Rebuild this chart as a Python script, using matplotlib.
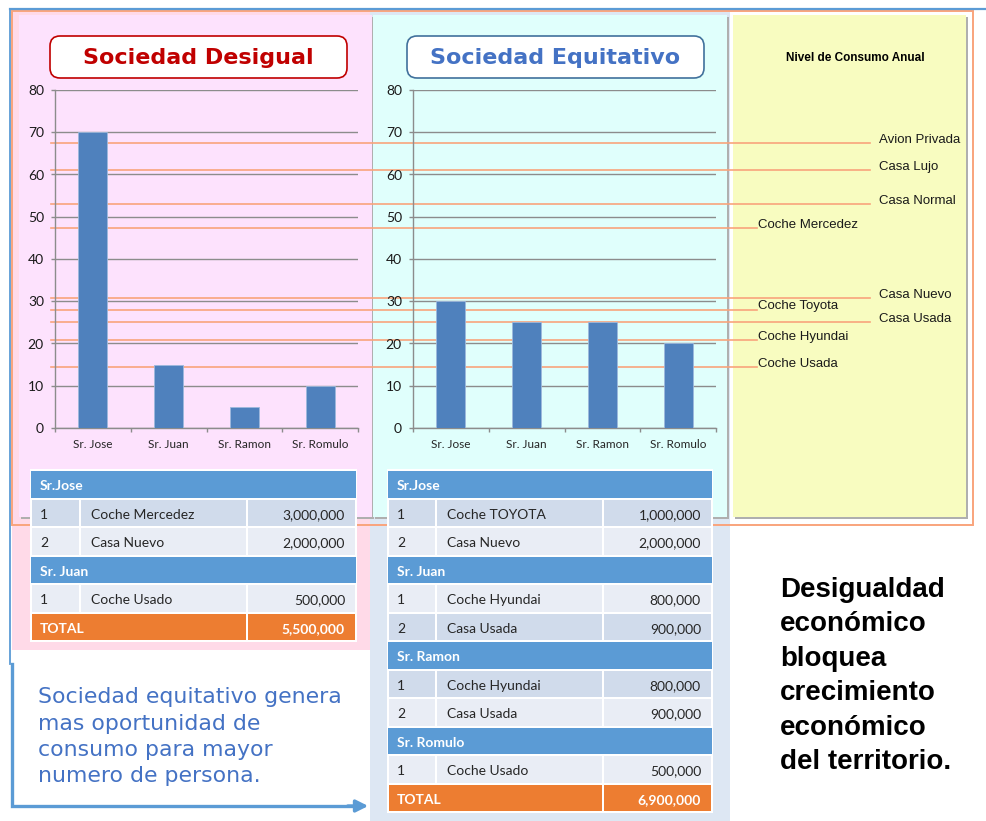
import matplotlib
matplotlib.use("Agg")
import matplotlib.pyplot as plt
import matplotlib.transforms as mtransforms
from matplotlib.patches import Rectangle, FancyBboxPatch

# ---- data ----
people = ["Sr. Jose", "Sr. Juan", "Sr. Ramon", "Sr. Romulo"]
desigual_values = [70, 15, 5, 10]
equitativo_values = [30, 25, 25, 20]
y_ticks = [0, 10, 20, 30, 40, 50, 60, 70, 80]

# consumption levels, on the same scale as the bars
casa_items = ["Avion Privada", "Casa Lujo", "Casa Normal", "Casa Nuevo", "Casa Usada"]
casa_levels = [67.4, 61.0, 52.9, 30.7, 25.1]
coche_items = ["Coche Mercedez", "Coche Toyota", "Coche Hyundai", "Coche Usada"]
coche_levels = [47.3, 28.0, 20.8, 14.4]

desigual_groups = ["Sr.Jose", "Sr. Juan"]
desigual_rows = [
    [("1", "Coche Mercedez", "3,000,000"), ("2", "Casa Nuevo", "2,000,000")],
    [("1", "Coche Usado", "500,000")],
]
desigual_total = "5,500,000"

equitativo_groups = ["Sr.Jose", "Sr. Juan", "Sr. Ramon", "Sr. Romulo"]
equitativo_rows = [
    [("1", "Coche TOYOTA", "1,000,000"), ("2", "Casa Nuevo", "2,000,000")],
    [("1", "Coche Hyundai", "800,000"), ("2", "Casa Usada", "900,000")],
    [("1", "Coche Hyundai", "800,000"), ("2", "Casa Usada", "900,000")],
    [("1", "Coche Usado", "500,000")],
]
equitativo_total = "6,900,000"

note_lines = ["Sociedad equitativo genera", "mas oportunidad de",
              "consumo para mayor", "numero de persona."]
claim_lines = ["Desigualdad", "económico", "bloquea", "crecimiento",
               "económico", "del territorio."]

# ---- colours ----
BAR = "#4F81BD"
GRID = "#8C8C8C"
ORANGE_LINE = "#F9A47C"
BLUE_LINE = "#5B9BD5"
HEAD = "#5B9BD5"
ROW_DARK = "#D0DBEB"
ROW_LIGHT = "#E9EDF5"
TOTAL = "#ED7D31"

W, H = 986, 821
fig = plt.figure(figsize=(W / 100, H / 100), dpi=100)
bg = fig.add_axes([0, 0, 1, 1])
bg.set_xlim(0, W)
bg.set_ylim(H, 0)
bg.axis("off")


def px_axes(x0, x1, y0, y1):
    return [x0 / W, 1 - y1 / H, (x1 - x0) / W, (y1 - y0) / H]


# background regions
bg.add_patch(Rectangle((12, 12), 358, 638, fc="#FFDAE8", ec="none", zorder=1))
bg.add_patch(Rectangle((370, 12), 360, 809, fc="#DDE7F3", ec="none", zorder=1))
bg.add_patch(Rectangle((12, 11), 961, 514, fill=False, ec=ORANGE_LINE, lw=1.4, zorder=2))
bg.plot([10, 986], [9, 9], color=BLUE_LINE, lw=1.6, zorder=2)
bg.plot([10, 10], [9, 664], color=BLUE_LINE, lw=1.3, zorder=2)

# panels with a small shadow
for x0, x1, fc in [(19, 372, "#FDE2FD"), (373, 727, "#E0FFFC"), (733, 966, "#F8FCC0")]:
    bg.add_patch(Rectangle((x0 + 2, 17), x1 - x0, 502, fc="#AFAFAF", ec="none", zorder=2.5))
    bg.add_patch(Rectangle((x0, 15), x1 - x0, 502, fc=fc, ec="none", zorder=3))

# title boxes
for x0, label, col, ecol in [(50, "Sociedad Desigual", "#C00000", "#C00000"),
                             (407, "Sociedad Equitativo", "#4472C4", "#41719C")]:
    bg.add_patch(FancyBboxPatch((x0, 36), 297, 42, boxstyle="round,pad=0,rounding_size=10",
                                fc="white", ec=ecol, lw=1.2, zorder=6))
    bg.text(x0 + 148.5, 58, label, ha="center", va="center", fontsize=16,
            fontweight="bold", family="DejaVu Sans", color=col, zorder=7)

bg.text(855, 58, "Nivel de Consumo Anual", ha="center", va="center", fontsize=8.5,
        fontweight="bold", family="Liberation Sans", color="black", zorder=7)


def draw_chart(ax, values):
    ax.set_facecolor("none")
    xs = list(range(len(people)))
    ax.bar(xs, values, width=0.38, color=BAR, edgecolor="#9DB9DD", linewidth=0.6, zorder=3)
    ax.set_xlim(-0.5, len(people) - 0.5)
    ax.set_ylim(0, 80)
    ax.set_yticks(y_ticks)
    ax.yaxis.grid(True, color=GRID, linewidth=1, zorder=0)
    ax.set_axisbelow(True)
    ax.set_xticks(xs)
    ax.set_xticklabels(people, fontsize=8.5, family="Lato", color="#262626")
    ax.set_xticks([i - 0.5 for i in range(len(people) + 1)], minor=True)
    ax.tick_params(axis="x", which="major", length=0, pad=8)
    ax.tick_params(axis="x", which="minor", length=3, color=GRID, width=1)
    ax.tick_params(axis="y", length=3, color=GRID, width=1, pad=5, labelsize=10,
                   labelcolor="#1a1a1a")
    for lab in ax.get_yticklabels():
        lab.set_family("Lato")
    for s in ["top", "right"]:
        ax.spines[s].set_visible(False)
    for s in ["left", "bottom"]:
        ax.spines[s].set_color(GRID)
        ax.spines[s].set_linewidth(1)


ax1 = fig.add_axes(px_axes(55, 358, 90, 428))
ax2 = fig.add_axes(px_axes(413, 716, 90, 428))
draw_chart(ax1, desigual_values)
draw_chart(ax2, equitativo_values)

# consumption level lines (x in pixels, y on the chart scale)
trans = mtransforms.blended_transform_factory(bg.transData, ax1.transData)
for names, levels, x_end in [(casa_items, casa_levels, 870), (coche_items, coche_levels, 757)]:
    for name, lvl in zip(names, levels):
        bg.plot([51, x_end], [lvl, lvl], transform=trans, color=ORANGE_LINE, lw=1.2,
                zorder=4, clip_on=False)
        bg.annotate(name, xy=(x_end + 1 if x_end < 800 else x_end + 9, lvl), xycoords=trans,
                    xytext=(0, 2.4), textcoords="offset points", ha="left", va="center",
                    fontsize=9.5, family="Liberation Sans", color="#1a1a1a", zorder=7)


def draw_table(x0, widths, top, groups, rows, total):
    row_h = 28.5
    x1 = x0 + widths[0]
    x2 = x1 + widths[1]
    x3 = x2 + widths[2]
    entries = []
    for g, rs in zip(groups, rows):
        entries.append(("head", g))
        entries += [("row", r) for r in rs]
    entries.append(("total", total))
    bg.add_patch(Rectangle((x0 - 1, top - 1), x3 - x0 + 2, row_h * len(entries) + 2,
                           fc="white", ec="none", zorder=8))
    kw = dict(va="center", fontsize=10, family="Lato", zorder=10)
    for i, (kind, d) in enumerate(entries):
        y = top + i * row_h
        yc = y + row_h / 2 + 1.5
        if kind == "head":
            bg.add_patch(Rectangle((x0, y + 1), x3 - x0, row_h - 2, fc=HEAD, ec="none", zorder=9))
            bg.text(x0 + 9, yc, d, ha="left", color="white", fontweight="bold", **kw)
        elif kind == "row":
            fc = ROW_DARK if i % 2 == 1 else ROW_LIGHT
            for a, b in [(x0, x1), (x1, x2), (x2, x3)]:
                bg.add_patch(Rectangle((a + 1, y + 1), b - a - 2, row_h - 2, fc=fc, ec="none",
                                       zorder=9))
            bg.text(x0 + 9, yc, d[0], ha="left", color="#262626", **kw)
            bg.text(x1 + 11, yc, d[1], ha="left", color="#262626", **kw)
            bg.text(x3 - 11, yc, d[2], ha="right", color="#262626", **kw)
        else:
            for a, b in [(x0, x2), (x2, x3)]:
                bg.add_patch(Rectangle((a + 1, y + 1), b - a - 2, row_h - 2, fc=TOTAL, ec="none",
                                       zorder=9))
            bg.text(x0 + 9, yc, "TOTAL", ha="left", color="white", fontweight="bold", **kw)
            bg.text(x3 - 11, yc, d, ha="right", color="white", fontweight="bold", **kw)


draw_table(31, [49, 167, 109], 470.5, desigual_groups, desigual_rows, desigual_total)
draw_table(388, [48, 167, 109], 470.5, equitativo_groups, equitativo_rows, equitativo_total)

# arrow on the left
bg.plot([12, 12, 352], [664, 806, 806], color=BLUE_LINE, lw=2.4, zorder=4,
        solid_joinstyle="miter")
bg.annotate("", xy=(371, 806), xytext=(345, 806),
            arrowprops=dict(arrowstyle="-|>", color=BLUE_LINE, lw=2.4, mutation_scale=18),
            zorder=4)

for i, line in enumerate(note_lines):
    bg.text(38, 697 + i * 26.5, line, ha="left", va="center", fontsize=15.8,
            family="DejaVu Sans", color="#4472C4", zorder=5)

for i, line in enumerate(claim_lines):
    bg.text(780, 590 + i * 34.4, line, ha="left", va="center", fontsize=20,
            fontweight="bold", family="Liberation Sans", color="black", zorder=5)

fig.savefig("out.png", dpi=100)
